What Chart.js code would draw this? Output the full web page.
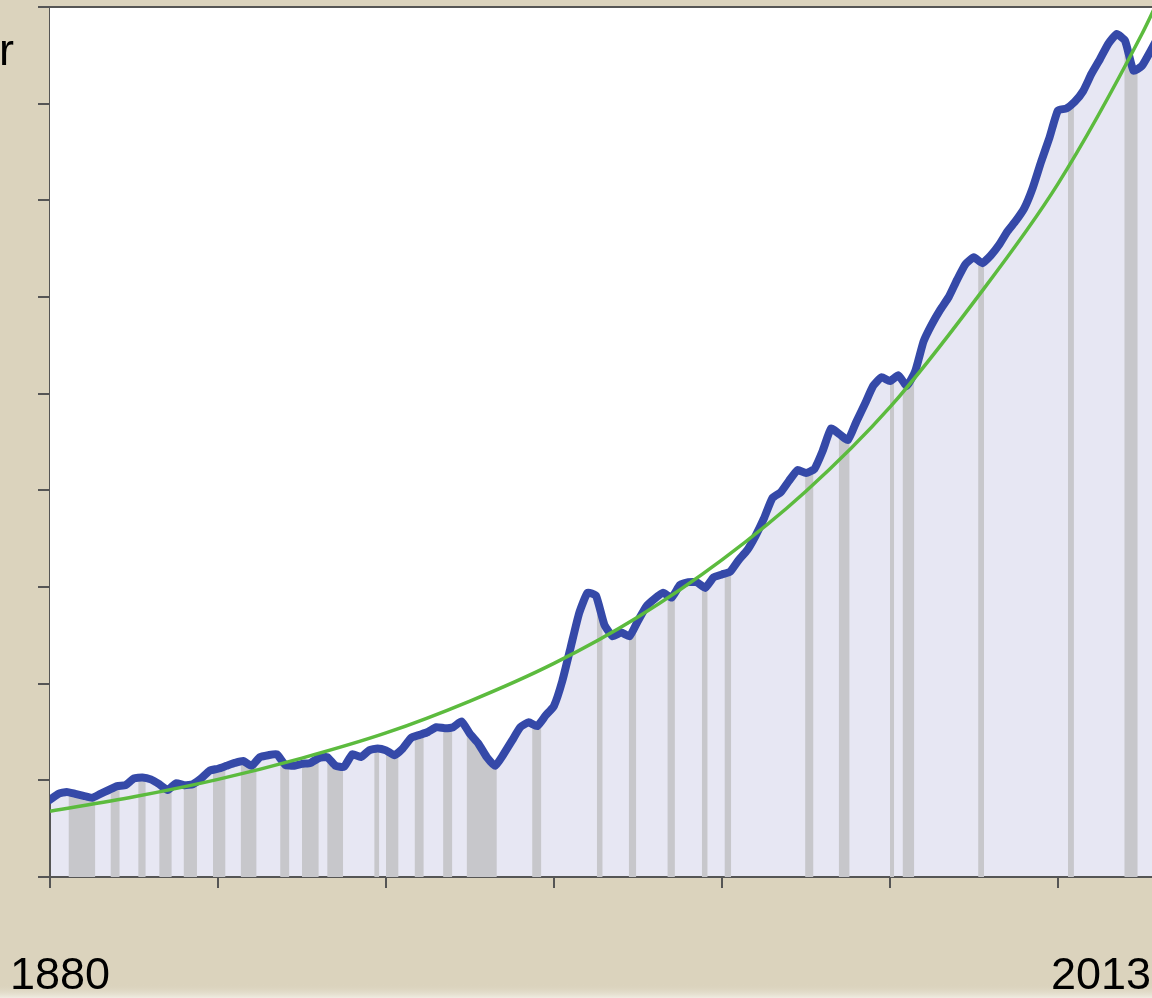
<!DOCTYPE html>
<html>
<head>
<meta charset="utf-8">
<script src="https://cdn.jsdelivr.net/npm/chart.js@4.4.1/dist/chart.umd.min.js"></script>
<style>
  html, body { margin: 0; padding: 0; background: #dbd3bd; }
  #wrap { width: 1152px; height: 998px; position: relative; }
</style>
</head>
<body>
<div id="wrap"><canvas id="chart"></canvas></div>
<script>
// blue series, one value per year (arbitrary units 0..9)
const years = [];
for (let y = 1880; y <= 2012; y++) years.push(y);
const values = [
  0.80, 0.86, 0.88, 0.86, 0.84, 0.82, 0.86, 0.90, 0.94, 0.95,
  1.02, 1.03, 1.01, 0.96, 0.90, 0.97, 0.95, 0.96, 1.02, 1.10,
  1.12, 1.15, 1.18, 1.20, 1.15, 1.24, 1.26, 1.27, 1.16, 1.15,
  1.17, 1.18, 1.23, 1.24, 1.15, 1.14, 1.27, 1.24, 1.31, 1.33,
  1.31, 1.26, 1.33, 1.44, 1.47, 1.50, 1.55, 1.54, 1.55, 1.61,
  1.48, 1.38, 1.24, 1.15, 1.27, 1.41, 1.55, 1.60, 1.56, 1.67,
  1.77, 2.03, 2.38, 2.73, 2.94, 2.91, 2.61, 2.49, 2.53, 2.49,
  2.65, 2.80, 2.88, 2.94, 2.89, 3.02, 3.05, 3.05, 2.99, 3.10,
  3.13, 3.16, 3.28, 3.38, 3.53, 3.71, 3.92, 3.98, 4.10, 4.21,
  4.18, 4.22, 4.41, 4.64, 4.58, 4.52, 4.71, 4.89, 5.08, 5.17,
  5.13, 5.19, 5.08, 5.23, 5.54, 5.72, 5.87, 6.00, 6.18, 6.34,
  6.41, 6.35, 6.43, 6.54, 6.68, 6.79, 6.92, 7.13, 7.40, 7.65,
  7.93, 7.95, 8.02, 8.13, 8.31, 8.46, 8.62, 8.72, 8.65, 8.34,
  8.39, 8.54, 8.70
];

// green trend, read at each decade
const trendYears = [1880, 1890, 1900, 1910, 1920, 1930, 1940, 1950, 1960, 1970, 1980, 1990, 2000, 2010, 2012];
const trendValues = [0.68, 0.83, 1.01, 1.23, 1.49, 1.82, 2.21, 2.69, 3.28, 3.99, 4.86, 5.95, 7.17, 8.72, 9.08];

// recession periods (grey bands)
const recStart = [1882.2, 1887.2, 1890.5, 1893.0, 1895.9, 1899.4, 1902.7, 1907.4, 1910.0, 1913.0,
  1918.6, 1920.0, 1923.4, 1926.8, 1929.6, 1937.4, 1945.1, 1948.9, 1953.5, 1957.6,
  1960.3, 1969.9, 1973.9, 1980.0, 1981.5, 1990.5, 2001.2, 2007.9];
const recEnd = [1885.4, 1888.3, 1891.4, 1894.5, 1897.5, 1900.9, 1904.6, 1908.5, 1912.0, 1914.9,
  1919.2, 1921.5, 1924.5, 1927.9, 1933.2, 1938.5, 1945.8, 1949.8, 1954.4, 1958.3,
  1961.1, 1970.9, 1975.2, 1980.5, 1982.9, 1991.2, 2001.9, 2009.5];

const yMax = 9;
const cornerLabels = ["1880", "2013"];
const sideLabel = "r";

const datasets = [];
recStart.forEach((s, i) => {
  datasets.push({
    data: [{x: s, y: yMax}, {x: recEnd[i], y: yMax}],
    borderWidth: 0,
    pointRadius: 0,
    fill: 'origin',
    backgroundColor: '#c7c7cb',
    order: 10
  });
});
datasets.push({
  data: years.map((y, i) => ({x: y, y: values[i]})),
  borderColor: '#3549a8',
  borderWidth: 8,
  borderJoinStyle: 'round',
  borderCapStyle: 'round',
  pointRadius: 0,
  tension: 0.15,
  fill: 'end',
  backgroundColor: '#ffffff',
  order: 2
});
datasets.push({
  data: trendYears.map((y, i) => ({x: y, y: trendValues[i]})),
  borderColor: '#5cbb3e',
  borderWidth: 3.5,
  pointRadius: 0,
  cubicInterpolationMode: 'monotone',
  fill: false,
  order: 1
});

const bgPlugin = {
  id: 'bg',
  beforeDraw(chart) {
    const {ctx, width, height, chartArea: a} = chart;
    ctx.save();
    ctx.fillStyle = '#dbd3bd';
    ctx.fillRect(0, 0, width, height);
    const g = ctx.createLinearGradient(0, 984, 0, height);
    g.addColorStop(0, 'rgba(219,211,189,0)');
    g.addColorStop(1, 'rgba(240,236,226,1)');
    ctx.fillStyle = g;
    ctx.fillRect(0, 984, width, height - 984);
    ctx.fillStyle = '#e7e7f3';
    ctx.fillRect(a.left, a.top, a.right - a.left, a.bottom - a.top);
    ctx.restore();
  },
  afterDraw(chart) {
    const {ctx, chartArea: a} = chart;
    ctx.save();
    ctx.strokeStyle = '#555';
    ctx.lineWidth = 2;
    ctx.beginPath();
    ctx.moveTo(a.left - 12, a.top);
    ctx.lineTo(a.right, a.top);
    ctx.stroke();
    ctx.fillStyle = '#000';
    ctx.font = '45px "Liberation Sans", Arial, sans-serif';
    ctx.textBaseline = 'alphabetic';
    ctx.textAlign = 'left';
    ctx.fillText(cornerLabels[0], 10, 989);
    ctx.textAlign = 'right';
    ctx.fillText(cornerLabels[1], 1151, 989);
    ctx.fillText(sideLabel, 14, 65);
    ctx.restore();
  }
};

new Chart(document.getElementById('chart'), {
  type: 'line',
  data: { datasets },
  plugins: [bgPlugin],
  options: {
    responsive: true,
    maintainAspectRatio: false,
    animation: false,
    layout: { padding: { left: 38, top: 7, right: 0, bottom: 110 } },
    plugins: { legend: { display: false }, tooltip: { enabled: false } },
    scales: {
      x: {
        type: 'linear',
        min: 1880,
        max: 2011.2,
        z: 1,
        ticks: { display: false, stepSize: 20, includeBounds: false },
        grid: { drawOnChartArea: false, drawTicks: true, tickLength: 11, color: '#555', lineWidth: 2 },
        border: { color: '#555', width: 2 }
      },
      y: {
        min: 0,
        max: yMax,
        z: 1,
        ticks: { display: false, stepSize: 1 },
        grid: { drawOnChartArea: false, drawTicks: true, tickLength: 12, color: '#555', lineWidth: 2 },
        border: { color: '#555', width: 2 }
      }
    }
  }
});
</script>
</body>
</html>
